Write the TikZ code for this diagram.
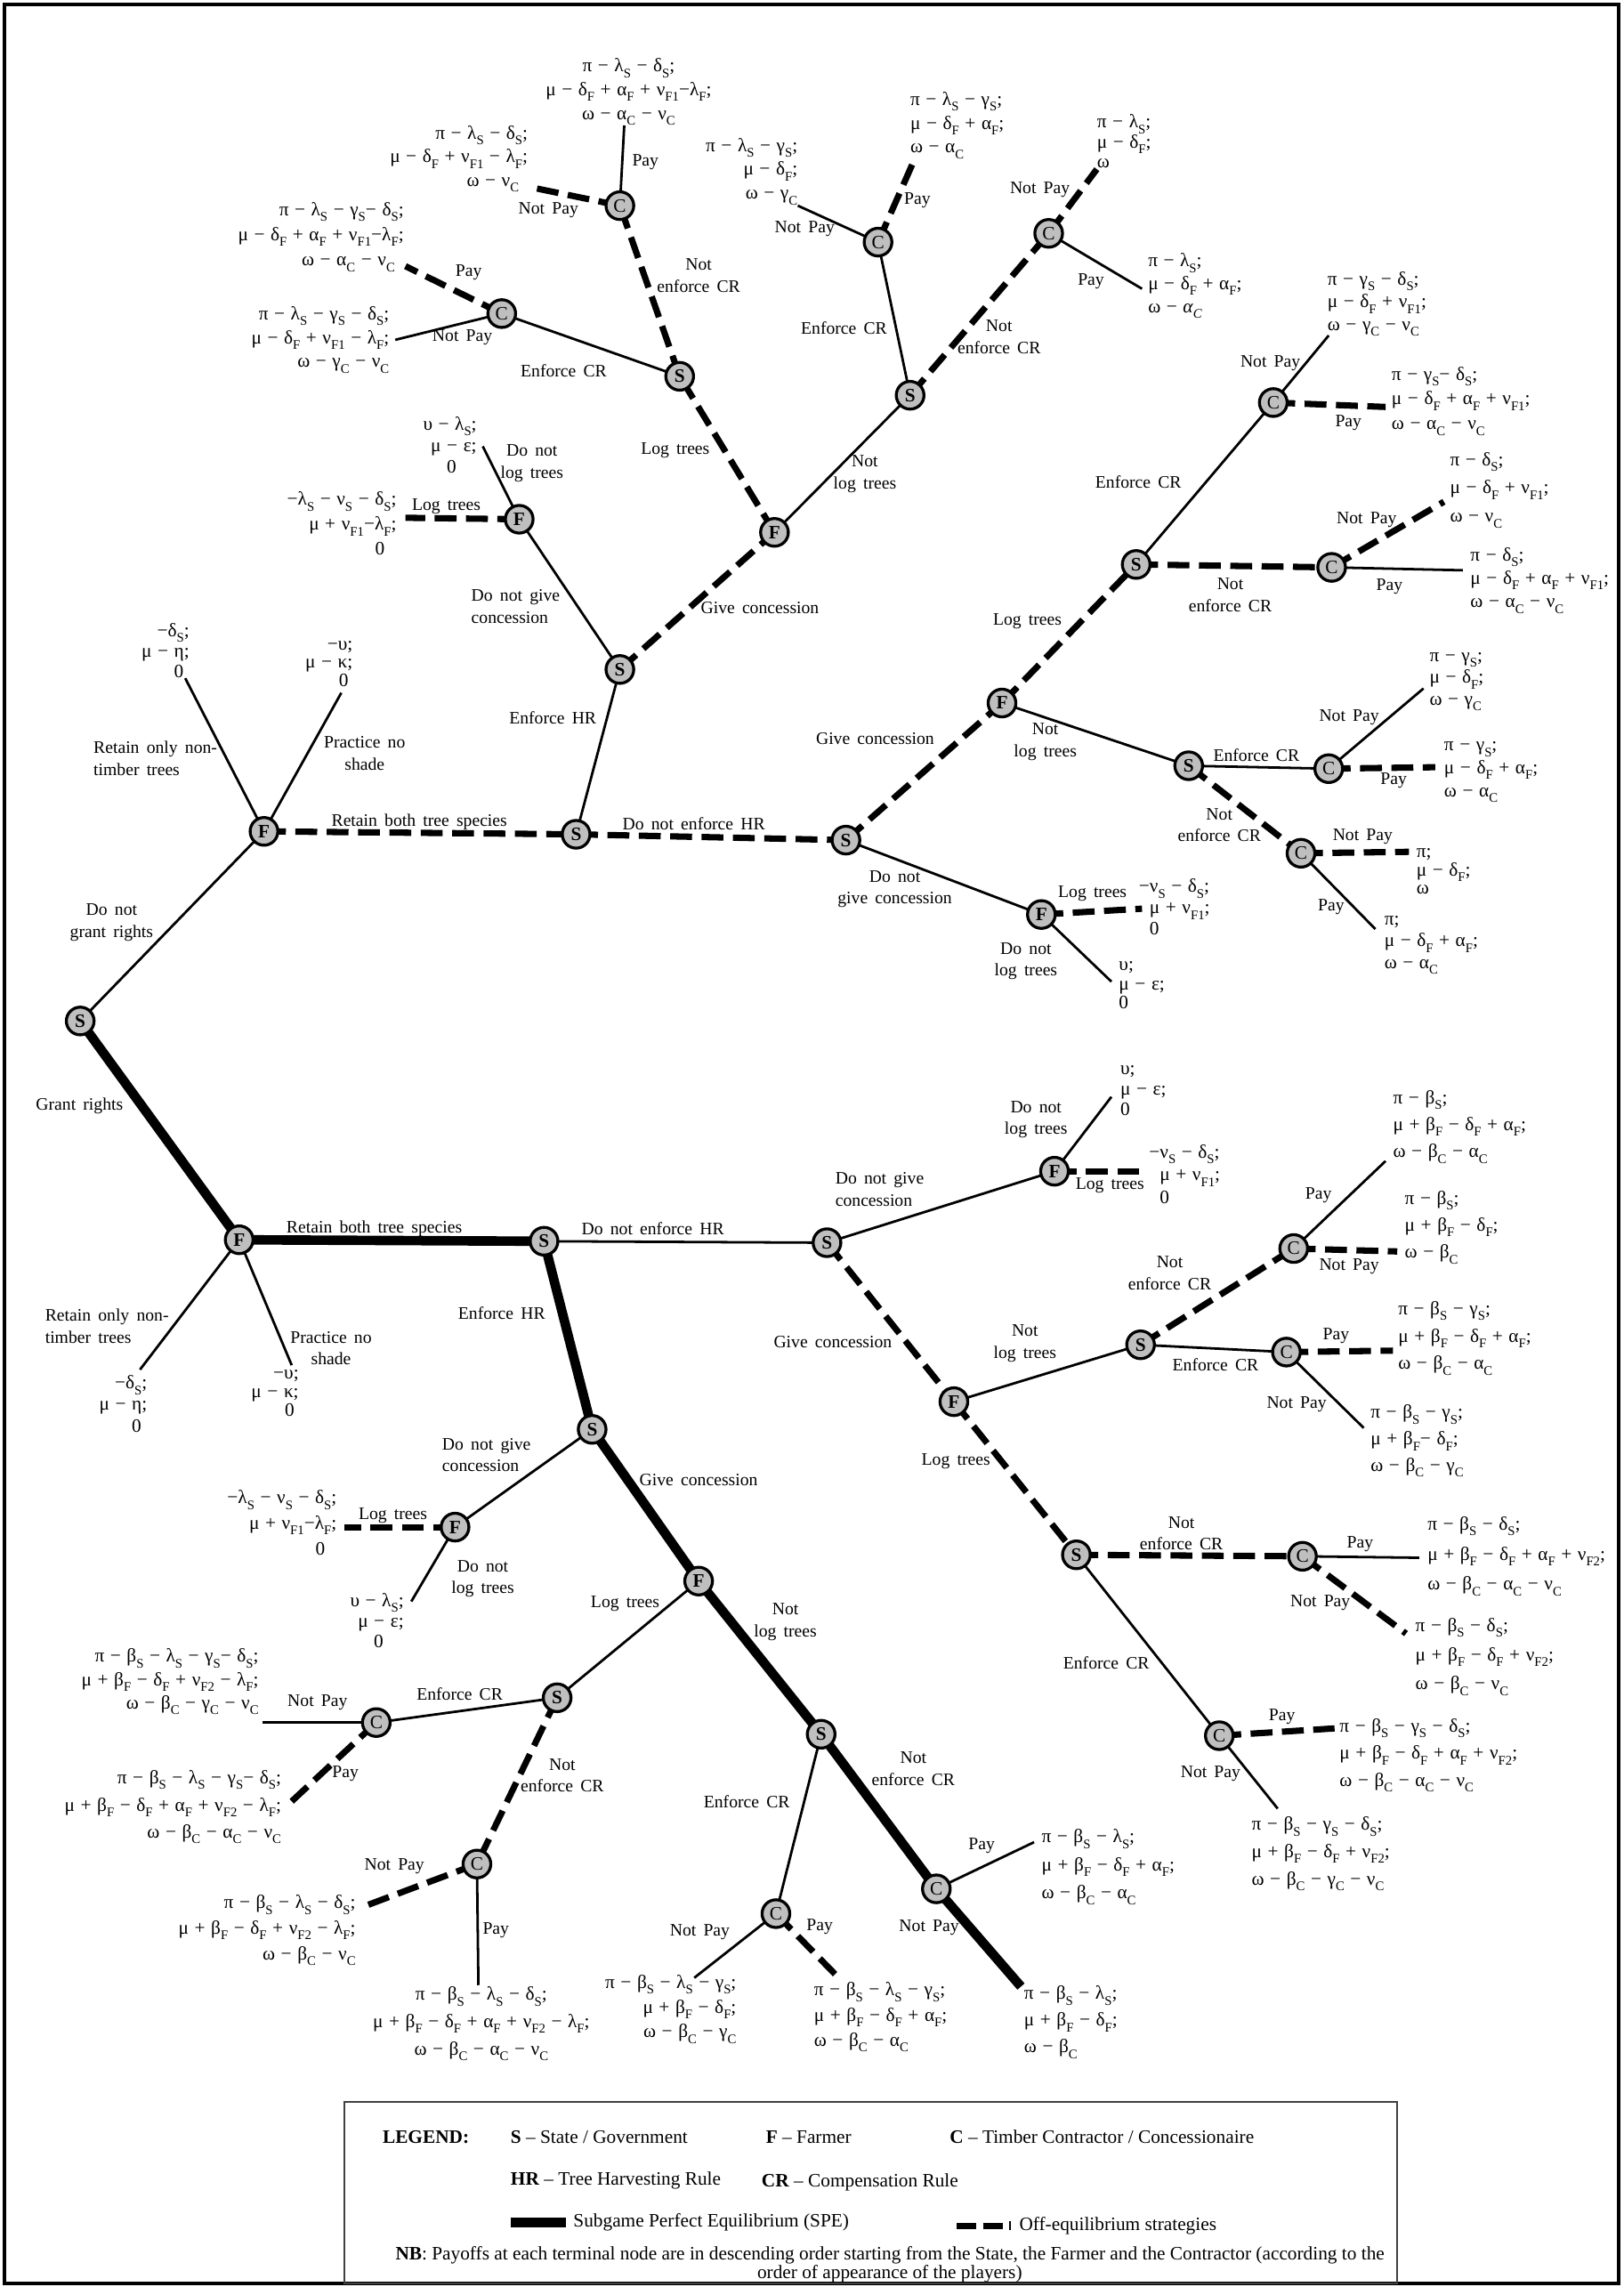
\documentclass[tikz,border=0pt]{standalone}
\usepackage{fontspec}
\setmainfont{Liberation Serif}
\pgfdeclarelayer{bg}
\pgfsetlayers{bg,main}
\newcommand{\sbx}[1]{\raisebox{-0.3em}{\fontsize{9pt}{9pt}\selectfont #1}}
\newcommand{\sbS}{\sbx{S}}
\newcommand{\sbF}{\sbx{F}}
\newcommand{\sbC}{\sbx{C}}
\newcommand{\sbFi}{\sbx{F1}}
\newcommand{\sbFii}{\sbx{F2}}
\newcommand{\pfont}[1]{\fontsize{13pt}{#1pt}\selectfont\spaceskip=4pt plus 1pt\relax}
\newcommand{\lfont}{\fontsize{12pt}{15pt}\selectfont\spaceskip=5pt plus 1pt\relax}
\begin{document}
\begin{tikzpicture}[x=1pt,y=-1pt,
  pl/.style={circle,draw,line width=2pt,fill=gray!50,minimum size=19pt,inner sep=0pt,font=\bfseries\fontsize{13}{13}\selectfont},
  plc/.style={pl,font=\fontsize{13}{13}\selectfont},
  sol/.style={line width=1.7pt},
  dsh/.style={line width=4.3pt,dash pattern=on 15pt off 6.5pt},
  spe/.style={line width=6.5pt},
  lab/.style={inner sep=0pt,align=center,font=\lfont},
  payL/.style={inner sep=0pt,align=left,anchor=west,font=\pfont{#1}},
  payL/.default=16.5,
  payR/.style={inner sep=0pt,align=right,anchor=east,font=\pfont{#1}},
  payR/.default=16.5,
  payC/.style={inner sep=0pt,align=center,anchor=center,font=\pfont{#1}},
  payC/.default=16.5,
  leg/.style={inner sep=0pt,font=\fontsize{13}{15}\selectfont},
]
\useasboundingbox (0,0) rectangle (1113,1568);
\draw[line width=2.4pt] (3,3) rectangle (1110,1565.5);

% ---------- player nodes: upper tree
\node[pl] (S0) at (55,700) {S};
\node[pl] (F1) at (181,570) {F};
\node[pl] (SA) at (395,572) {S};
\node[pl] (SB) at (425,459) {S};
\node[pl] (SC) at (580,576) {S};
\node[pl] (FB) at (356,356) {F};
\node[pl] (FC) at (531,365) {F};
\node[pl] (SD) at (466,258) {S};
\node[pl] (SE) at (624,271) {S};
\node[plc] (CD1) at (344,215) {C};
\node[plc] (CD2) at (425,141) {C};
\node[plc] (CE1) at (602,166) {C};
\node[plc] (CE2) at (719,160) {C};
\node[pl] (FD) at (687,482) {F};
\node[pl] (FE) at (714,627) {F};
\node[pl] (SF) at (779,387) {S};
\node[pl] (SG) at (815,525) {S};
\node[plc] (CF1) at (873,276) {C};
\node[plc] (CF2) at (913,389) {C};
\node[plc] (CG1) at (911,527) {C};
\node[plc] (CG2) at (892,585) {C};
% ---------- player nodes: lower tree
\node[pl] (F2) at (164,850) {F};
\node[pl] (SH) at (373,851) {S};
\node[pl] (SI) at (567,852) {S};
\node[pl] (SJ) at (406,980) {S};
\node[pl] (FF) at (723,803) {F};
\node[pl] (FG) at (654,961) {F};
\node[pl] (SK) at (782,922) {S};
\node[pl] (SL) at (738,1066) {S};
\node[plc] (CK1) at (887,856) {C};
\node[plc] (CK2) at (882,927) {C};
\node[plc] (CL1) at (893,1067) {C};
\node[plc] (CL2) at (836,1190) {C};
\node[pl] (FH) at (312,1047) {F};
\node[pl] (FI) at (479,1084) {F};
\node[pl] (SM) at (382,1164) {S};
\node[pl] (SN) at (563,1189) {S};
\node[plc] (CN1) at (532,1312) {C};
\node[plc] (CN2) at (642,1295) {C};
\node[plc] (CM1) at (258,1181) {C};
\node[plc] (CM2) at (327,1278) {C};

% ---------- terminal ends
\coordinate (t1) at (127,465);
\coordinate (t2) at (234,475);
\coordinate (tFBl) at (278,355);
\coordinate (tFBd) at (331,306);
\coordinate (tCD1p) at (278,182.5);
\coordinate (tCD1n) at (271,233);
\coordinate (tCD2p) at (428,86);
\coordinate (tCD2n) at (362,128);
\coordinate (tCE1n) at (547,141);
\coordinate (tCE1p) at (628,107);
\coordinate (tCE2n) at (752,116);
\coordinate (tCE2p) at (783,198);
\coordinate (tFEl) at (783,623);
\coordinate (tFEd) at (762,673);
\coordinate (tCF1n) at (911,230);
\coordinate (tCF1p) at (950,279);
\coordinate (tCF2n) at (990,344);
\coordinate (tCF2p) at (1003,391);
\coordinate (tCG1n) at (976,472);
\coordinate (tCG1p) at (984,526);
\coordinate (tCG2n) at (966,584);
\coordinate (tCG2p) at (943,637);
\coordinate (t3) at (96,939);
\coordinate (t4) at (200,936);
\coordinate (tFFd) at (762,752);
\coordinate (tFFl) at (787,803);
\coordinate (tCK1p) at (950,796);
\coordinate (tCK1n) at (958,858);
\coordinate (tCK2p) at (955,926);
\coordinate (tCK2n) at (935,979);
\coordinate (tCL1p) at (973,1068);
\coordinate (tCL1n) at (964,1120);
\coordinate (tCL2p) at (915,1185);
\coordinate (tCL2n) at (876,1240);
\coordinate (tFHl) at (236,1047);
\coordinate (tFHd) at (282,1098);
\coordinate (tCN1n) at (476,1356);
\coordinate (tCN1p) at (574,1355);
\coordinate (tCN2p) at (709,1263);
\coordinate (tCN2n) at (700,1362);
\coordinate (tCM1n) at (180,1181);
\coordinate (tCM1p) at (200,1235);
\coordinate (tCM2n) at (247,1308);
\coordinate (tCM2p) at (328,1361);

\begin{pgfonlayer}{bg}
% upper
\draw[sol] (S0.center) -- (F1.center);
\draw[sol] (F1.center) -- (t1);
\draw[sol] (F1.center) -- (t2);
\draw[dsh] (F1.center) -- (SA.center);
\draw[sol] (SA.center) -- (SB.center);
\draw[dsh] (SA.center) -- (SC.center);
\draw[sol] (SB.center) -- (FB.center);
\draw[dsh] (SB.center) -- (FC.center);
\draw[dsh] (FB.center) -- (tFBl);
\draw[sol] (FB.center) -- (tFBd);
\draw[dsh] (FC.center) -- (SD.center);
\draw[sol] (FC.center) -- (SE.center);
\draw[sol] (SD.center) -- (CD1.center);
\draw[dsh] (SD.center) -- (CD2.center);
\draw[dsh] (CD1.center) -- (tCD1p);
\draw[sol] (CD1.center) -- (tCD1n);
\draw[sol] (CD2.center) -- (tCD2p);
\draw[dsh] (CD2.center) -- (tCD2n);
\draw[sol] (SE.center) -- (CE1.center);
\draw[dsh] (SE.center) -- (CE2.center);
\draw[sol] (CE1.center) -- (tCE1n);
\draw[dsh] (CE1.center) -- (tCE1p);
\draw[dsh] (CE2.center) -- (tCE2n);
\draw[sol] (CE2.center) -- (tCE2p);
\draw[dsh] (SC.center) -- (FD.center);
\draw[sol] (SC.center) -- (FE.center);
\draw[dsh] (FE.center) -- (tFEl);
\draw[sol] (FE.center) -- (tFEd);
\draw[dsh] (FD.center) -- (SF.center);
\draw[sol] (FD.center) -- (SG.center);
\draw[sol] (SF.center) -- (CF1.center);
\draw[dsh] (SF.center) -- (CF2.center);
\draw[sol] (CF1.center) -- (tCF1n);
\draw[dsh] (CF1.center) -- (tCF1p);
\draw[dsh] (CF2.center) -- (tCF2n);
\draw[sol] (CF2.center) -- (tCF2p);
\draw[sol] (SG.center) -- (CG1.center);
\draw[dsh] (SG.center) -- (CG2.center);
\draw[sol] (CG1.center) -- (tCG1n);
\draw[dsh] (CG1.center) -- (tCG1p);
\draw[dsh] (CG2.center) -- (tCG2n);
\draw[sol] (CG2.center) -- (tCG2p);
% lower
\draw[spe] (S0.center) -- (F2.center);
\draw[spe] (F2.center) -- (SH.center);
\draw[sol] (F2.center) -- (t3);
\draw[sol] (F2.center) -- (t4);
\draw[sol] (SH.center) -- (SI.center);
\draw[spe] (SH.center) -- (SJ.center);
\draw[sol] (SI.center) -- (FF.center);
\draw[dsh] (SI.center) -- (FG.center);
\draw[sol] (FF.center) -- (tFFd);
\draw[dsh] (FF.center) -- (tFFl);
\draw[sol] (FG.center) -- (SK.center);
\draw[dsh] (FG.center) -- (SL.center);
\draw[dsh] (SK.center) -- (CK1.center);
\draw[sol] (SK.center) -- (CK2.center);
\draw[sol] (CK1.center) -- (tCK1p);
\draw[dsh] (CK1.center) -- (tCK1n);
\draw[dsh] (CK2.center) -- (tCK2p);
\draw[sol] (CK2.center) -- (tCK2n);
\draw[dsh] (SL.center) -- (CL1.center);
\draw[sol] (SL.center) -- (CL2.center);
\draw[sol] (CL1.center) -- (tCL1p);
\draw[dsh] (CL1.center) -- (tCL1n);
\draw[dsh] (CL2.center) -- (tCL2p);
\draw[sol] (CL2.center) -- (tCL2n);
\draw[sol] (SJ.center) -- (FH.center);
\draw[spe] (SJ.center) -- (FI.center);
\draw[dsh] (FH.center) -- (tFHl);
\draw[sol] (FH.center) -- (tFHd);
\draw[sol] (FI.center) -- (SM.center);
\draw[spe] (FI.center) -- (SN.center);
\draw[sol] (SN.center) -- (CN1.center);
\draw[spe] (SN.center) -- (CN2.center);
\draw[sol] (CN1.center) -- (tCN1n);
\draw[dsh] (CN1.center) -- (tCN1p);
\draw[sol] (CN2.center) -- (tCN2p);
\draw[spe] (CN2.center) -- (tCN2n);
\draw[sol] (SM.center) -- (CM1.center);
\draw[dsh] (SM.center) -- (CM2.center);
\draw[sol] (CM1.center) -- (tCM1n);
\draw[dsh] (CM1.center) -- (tCM1p);
\draw[dsh] (CM2.center) -- (tCM2n);
\draw[sol] (CM2.center) -- (tCM2p);
\end{pgfonlayer}

% ---------- payoffs: upper
\node[payR=14] (p1) at (130,446) {−δ\sbS;\\μ − η;\\0\hspace*{4pt}};
\node[payR=12.5] (p2) at (242,455) {−υ;\\μ − κ;\\0\hspace*{3pt}};
\node[payR=17] (p3) at (272,359) {−λ\sbS{} − ν\sbS{} − δ\sbS;\\μ + ν\sbFi{}−λ\sbF;\\0\hspace*{8pt}};
\node[payR=14.5] (p4) at (327,305) {υ − λ\sbS;\\μ − ε;\\0\hspace*{14pt}};
\node[payR=17.3] (p5) at (277,162.5) {π − λ\sbS{} − γ\sbS{}− δ\sbS;\\μ − δ\sbF{} + α\sbF{} + ν\sbFi{}−λ\sbF;\\ω − α\sbC{} − ν\sbC\hspace*{6pt}};
\node[payR=16.3] (p6) at (267,233) {π − λ\sbS{} − γ\sbS{} − δ\sbS;\\μ − δ\sbF{} + ν\sbFi{} − λ\sbF;\\ω − γ\sbC{} − ν\sbC};
\node[payC=16.3] (p7) at (431,63) {π − λ\sbS{} − δ\sbS;\\μ − δ\sbF{} + α\sbF{} + ν\sbFi{}−λ\sbF;\\ω − α\sbC{} − ν\sbC};
\node[payR=16.3] (p8) at (362,109) {π − λ\sbS{} − δ\sbS;\\μ − δ\sbF{} + ν\sbFi{} − λ\sbF;\\ω − ν\sbC\hspace*{6pt}};
\node[payR=16.3] (p9) at (547,117.6) {π − λ\sbS{} − γ\sbS;\\μ − δ\sbF;\\ω − γ\sbC};
\node[payL=16.3] (p10) at (624,86) {π − λ\sbS{} − γ\sbS;\\μ − δ\sbF{} + α\sbF;\\ω − α\sbC};
\node[payL=13.7] (p11) at (752,97) {π − λ\sbS;\\μ − δ\sbF;\\ω};
\node[payL=15.7] (p12) at (787,196) {π − λ\sbS;\\μ − δ\sbF{} + α\sbF;\\ω − \textit{α}\sbx{\textit{C}}};
\node[payL=14.7] (p13) at (788,622) {\llap{−}ν\sbS{} − δ\sbS;\\μ + ν\sbFi;\\0};
\node[payL=13.2] (p14) at (767,675.5) {υ;\\μ − ε;\\0};
\node[payL=15.6] (p15) at (910,208.5) {π − γ\sbS{} − δ\sbS;\\μ − δ\sbF{} + ν\sbFi;\\ω − γ\sbC{} − ν\sbC};
\node[payL=16.9] (p16) at (954,275) {π − γ\sbS{}− δ\sbS;\\μ − δ\sbF{} + α\sbF{} + ν\sbFi;\\ω − α\sbC{} − ν\sbC};
\node[payL=19.4] (p17) at (994,336) {π − δ\sbS;\\μ − δ\sbF{} + ν\sbFi;\\ω − ν\sbC};
\node[payL=16] (p18) at (1008,398) {π − δ\sbS;\\μ − δ\sbF{} + α\sbF{} + ν\sbFi;\\ω − α\sbC{} − ν\sbC};
\node[payL=15] (p19) at (980,467.5) {π − γ\sbS;\\μ − δ\sbF;\\ω − γ\sbC};
\node[payL=15.7] (p20) at (990,529.5) {π − γ\sbS;\\μ − δ\sbF{} + α\sbF;\\ω − α\sbC};
\node[payL=12.5] (p21) at (971,597.5) {π;\\μ − δ\sbF;\\ω};
\node[payL=14.8] (p22) at (949,648) {π;\\μ − δ\sbF{} + α\sbF;\\ω − α\sbC};
% ---------- payoffs: lower
\node[payR=14.8] (q1) at (101,962.5) {−δ\sbS;\\μ − η;\\0\hspace*{4pt}};
\node[payR=12.7] (q2) at (205,955) {−υ;\\μ − κ;\\0\hspace*{3pt}};
\node[payL=13.8] (q3) at (768,747.7) {υ;\\μ − ε;\\0};
\node[payL=15.7] (q4) at (795,805) {\llap{−}ν\sbS{} − δ\sbS;\\μ + ν\sbFi;\\0};
\node[payL=18.5] (q5) at (955,772.5) {π − β\sbS;\\μ + β\sbF{} − δ\sbF{} + α\sbF;\\ω − β\sbC{} − α\sbC};
\node[payL=18.4] (q6) at (963,841.5) {π − β\sbS;\\μ + β\sbF{} − δ\sbF;\\ω − β\sbC};
\node[payL=18.8] (q7) at (958.5,917.5) {π − β\sbS{} − γ\sbS;\\μ + β\sbF{} − δ\sbF{} + α\sbF;\\ω − β\sbC{} − α\sbC};
\node[payL=18.2] (q8) at (939.6,988) {π − β\sbS{} − γ\sbS;\\μ + β\sbF{}− δ\sbF;\\ω − β\sbC{} − γ\sbC};
\node[payL=20.6] (q9) at (978.6,1067) {π − β\sbS{} − δ\sbS;\\μ + β\sbF{} − δ\sbF{} + α\sbF{} + ν\sbFii;\\ω − β\sbC{} − α\sbC{} − ν\sbC};
\node[payL=20] (q10) at (970.3,1136) {π − β\sbS{} − δ\sbS;\\μ + β\sbF{} − δ\sbF{} + ν\sbFii;\\ω − β\sbC{} − ν\sbC};
\node[payL=18.7] (q11) at (918.3,1203.4) {π − β\sbS{} − γ\sbS{} − δ\sbS;\\μ + β\sbF{} − δ\sbF{} + α\sbF{} + ν\sbFii;\\ω − β\sbC{} − α\sbC{} − ν\sbC};
\node[payL=18.7] (q12) at (858,1271) {π − β\sbS{} − γ\sbS{} − δ\sbS;\\μ + β\sbF{} − δ\sbF{} + ν\sbFii;\\ω − β\sbC{} − γ\sbC{} − ν\sbC};
\node[payR=17.5] (q13) at (231,1044) {−λ\sbS{} − ν\sbS{} − δ\sbS;\\μ + ν\sbFi{}−λ\sbF;\\0\hspace*{8pt}};
\node[payR=14] (q14) at (277,1111) {υ − λ\sbS;\\μ − ε;\\0\hspace*{14pt}};
\node[payR=17] (q15) at (505,1377.5) {π − β\sbS{} − λ\sbS{} − γ\sbS;\\μ + β\sbF{} − δ\sbF;\\ω − β\sbC{} − γ\sbC};
\node[payL=17.2] (q16) at (558,1383) {π − β\sbS{} − λ\sbS{} − γ\sbS;\\μ + β\sbF{} − δ\sbF{} + α\sbF;\\ω − β\sbC{} − α\sbC};
\node[payL=19.2] (q17) at (714,1280) {π − β\sbS{} − λ\sbS;\\μ + β\sbF{} − δ\sbF{} + α\sbF;\\ω − β\sbC{} − α\sbC};
\node[payL=18.2] (q18) at (702,1386.5) {π − β\sbS{} − λ\sbS;\\μ + β\sbF{} − δ\sbF;\\ω − β\sbC};
\node[payR=16] (q19) at (177.5,1153) {π − β\sbS{} − λ\sbS{} − γ\sbS{}− δ\sbS;\\μ + β\sbF{} − δ\sbF{} + ν\sbFii{} − λ\sbF;\\ω − β\sbC{} − γ\sbC{} − ν\sbC};
\node[payR=18.6] (q20) at (193,1239) {π − β\sbS{} − λ\sbS{} − γ\sbS{}− δ\sbS;\\μ + β\sbF{} − δ\sbF{} + α\sbF{} + ν\sbFii{} − λ\sbF;\\ω − β\sbC{} − α\sbC{} − ν\sbC};
\node[payR=17.5] (q21) at (244,1323.5) {π − β\sbS{} − λ\sbS{} − δ\sbS;\\μ + β\sbF{} − δ\sbF{} + ν\sbFii{} − λ\sbF;\\ω − β\sbC{} − ν\sbC};
\node[payC=18.7] (q22) at (330,1387.5) {π − β\sbS{} − λ\sbS{} − δ\sbS;\\μ + β\sbF{} − δ\sbF{} + α\sbF{} + ν\sbFii{} − λ\sbF;\\ω − β\sbC{} − α\sbC{} − ν\sbC};

% ---------- branch labels: upper
\node[lab] (a1) at (76.5,632.5) {Do not\\grant rights};
\node[lab] (a2) at (54.5,758.5) {Grant rights};
\node[lab,align=left,anchor=west] (a3) at (64,520) {Retain only non-\\timber trees};
\node[lab] (a4) at (250,516.5) {Practice no\\shade};
\node[lab] (a5) at (287.5,563.3) {Retain both tree species};
\node[lab] (a6) at (379,492) {Enforce HR};
\node[lab] (a7) at (475.7,564.5) {Do not enforce HR};
\node[lab,align=left,anchor=west] (a8) at (323,416) {Do not give\\concession};
\node[lab] (a9) at (521,417) {Give concession};
\node[lab] (a10) at (306,347.3) {Log trees};
\node[lab] (a11) at (364.7,317.7) {Do not\\log trees};
\node[lab] (a12) at (463,309) {Log trees};
\node[lab] (a13) at (593,325) {Not\\log trees};
\node[lab] (a14) at (386.5,254) {Enforce CR};
\node[lab] (a15) at (479,189) {Not\\enforce CR};
\node[lab] (a16) at (321.3,187.1) {Pay};
\node[lab] (a17) at (317,231.4) {Not Pay};
\node[lab] (a18) at (442.5,111.3) {Pay};
\node[lab] (a19) at (376,144) {Not Pay};
\node[lab] (a20) at (578.7,225.2) {Enforce CR};
\node[lab] (a21) at (685,231) {Not\\enforce CR};
\node[lab] (a22) at (551.7,157.1) {Not Pay};
\node[lab] (a23) at (629,137.6) {Pay};
\node[lab] (a24) at (713,130.1) {Not Pay};
\node[lab] (a25) at (748,192.7) {Pay};
\node[lab] (a26) at (600,506.2) {Give concession};
\node[lab] (a27) at (613.5,609.6) {Do not\\give concession};
\node[lab] (a28) at (749,612.6) {Log trees};
\node[lab] (a29) at (703.4,659) {Do not\\log trees};
\node[lab] (a30) at (704.4,426.2) {Log trees};
\node[lab] (a31) at (716.7,508.7) {Not\\log trees};
\node[lab] (a32) at (780.5,330.3) {Enforce CR};
\node[lab] (a33) at (843.5,408) {Not\\enforce CR};
\node[lab] (a34) at (871,249) {Not Pay};
\node[lab] (a35) at (924.5,290.2) {Pay};
\node[lab] (a36) at (937,356.5) {Not Pay};
\node[lab] (a37) at (952.6,402.4) {Pay};
\node[lab] (a38) at (861.4,517.5) {Enforce CR};
\node[lab] (a39) at (836,565.7) {Not\\enforce CR};
\node[lab] (a40) at (925,492) {Not Pay};
\node[lab] (a41) at (955.5,535) {Pay};
\node[lab] (a42) at (934.3,573.8) {Not Pay};
\node[lab] (a43) at (912.7,622.1) {Pay};
% ---------- branch labels: lower
\node[lab] (b1) at (256.6,842.2) {Retain both tree species};
\node[lab,align=left,anchor=west] (b2) at (30.8,909.3) {Retain only non-\\timber trees};
\node[lab] (b3) at (227,924.3) {Practice no\\shade};
\node[lab] (b4) at (344,900.3) {Enforce HR};
\node[lab] (b5) at (447.6,842.2) {Do not enforce HR};
\node[lab,align=left,anchor=west] (b6) at (572.6,815.3) {Do not give\\concession};
\node[lab] (b7) at (571,919.8) {Give concession};
\node[lab] (b8) at (710.3,767.7) {Do not\\log trees};
\node[lab] (b9) at (761,812.7) {Log trees};
\node[lab] (b10) at (702.7,920.9) {Not\\log trees};
\node[lab] (b11) at (655.4,1001.9) {Log trees};
\node[lab] (b12) at (802,873) {Not\\enforce CR};
\node[lab] (b13) at (833.4,935.6) {Enforce CR};
\node[lab] (b14) at (904,819.7) {Pay};
\node[lab] (b15) at (925,868) {Not Pay};
\node[lab] (b16) at (916,916) {Pay};
\node[lab] (b17) at (889,963.1) {Not Pay};
\node[lab] (b18) at (810,1051.2) {Not\\enforce CR};
\node[lab] (b19) at (758.5,1140) {Enforce CR};
\node[lab] (b20) at (932.5,1058.7) {Pay};
\node[lab] (b21) at (905.2,1098.7) {Not Pay};
\node[lab] (b22) at (879,1177) {Pay};
\node[lab] (b23) at (830,1215.9) {Not Pay};
\node[lab] (b24) at (479,1014.4) {Give concession};
\node[lab,align=left,anchor=west] (b25) at (303,997.6) {Do not give\\concession};
\node[lab] (b26) at (269.4,1039.4) {Log trees};
\node[lab] (b27) at (331,1082.5) {Do not\\log trees};
\node[lab] (b28) at (428.6,1099.5) {Log trees};
\node[lab] (b29) at (538.5,1112) {Not\\log trees};
\node[lab] (b30) at (315.2,1161.3) {Enforce CR};
\node[lab] (b31) at (385.5,1217.3) {Not\\enforce CR};
\node[lab] (b32) at (217.7,1167.5) {Not Pay};
\node[lab] (b33) at (236.8,1215.9) {Pay};
\node[lab] (b34) at (270.4,1279.7) {Not Pay};
\node[lab] (b35) at (340,1323.5) {Pay};
\node[lab] (b36) at (512,1235.1) {Enforce CR};
\node[lab] (b37) at (626.2,1212.6) {Not\\enforce CR};
\node[lab] (b38) at (479.8,1324.7) {Not Pay};
\node[lab] (b39) at (562,1321) {Pay};
\node[lab] (b40) at (673,1265.2) {Pay};
\node[lab] (b41) at (637,1321.7) {Not Pay};

% ---------- legend
\draw[line width=1pt,draw=black!75] (236,1441) rectangle (958,1565.5);
\node[leg] (lg0) at (292,1465) {\textbf{LEGEND:}};
\node[leg,anchor=west] (lg1) at (350,1465) {\textbf{S} – State / Government};
\node[leg,anchor=west] (lg2) at (525,1465) {\textbf{F} – Farmer};
\node[leg,anchor=west] (lg3) at (651,1465) {\textbf{C} – Timber Contractor / Concessionaire};
\node[leg,anchor=west] (lg4) at (350,1495) {\textbf{HR} – Tree Harvesting Rule};
\node[leg,anchor=west] (lg5) at (522,1496) {\textbf{CR} – Compensation Rule};
\coordinate (k1) at (350,1523.6);
\coordinate (k2) at (388,1523.6);
\draw[spe] (k1) -- (k2);
\node[leg,anchor=west] (lg6) at (393,1523.6) {Subgame Perfect Equilibrium (SPE)};
\coordinate (k3) at (656,1526);
\coordinate (k4) at (688,1526);
\coordinate (k5) at (692.5,1523);
\coordinate (k6) at (692.5,1529);
\draw[line width=4.3pt,dash pattern=on 13.5pt off 4.5pt] (k3) -- (k4);
\draw[line width=1pt] (k5) -- (k6);
\node[leg,anchor=west] (lg7) at (698.7,1526) {Off-equilibrium strategies};
\node[leg,anchor=west] (lg8) at (271,1546) {\resizebox{678pt}{!}{\textbf{NB}: Payoffs at each terminal node are in descending order starting from the State, the Farmer and the Contractor (according to the}};
\node[leg] (lg9) at (610,1559) {order of appearance of the players)};
\end{tikzpicture}
\end{document}
